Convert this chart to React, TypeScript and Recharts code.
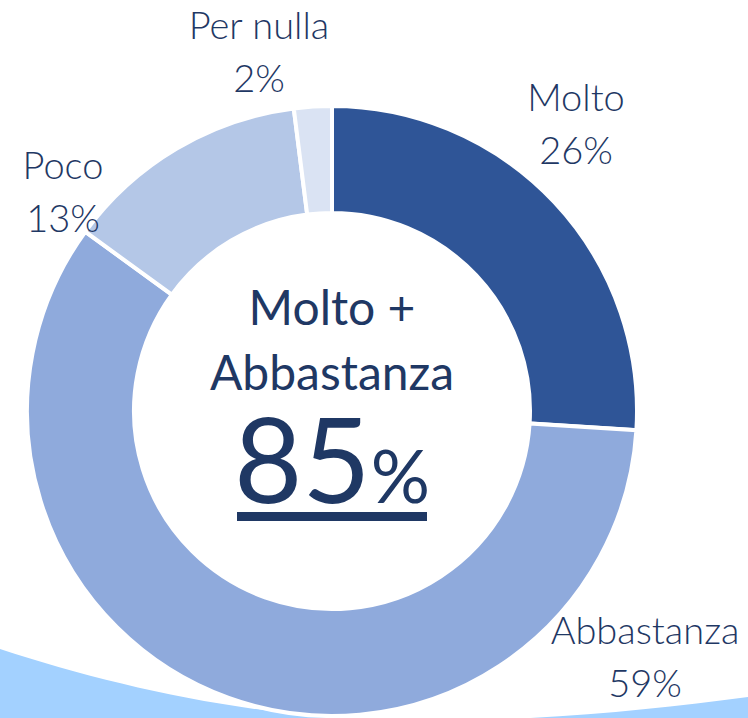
import React from "react";
import { PieChart, Pie, Cell, Label } from "recharts";

const categories = ["Molto", "Abbastanza", "Poco", "Per nulla"];
const values = [26, 59, 13, 2];
const colors = ["#2F5597", "#8FAADC", "#B4C7E7", "#DAE3F3"];
const centerTitle = ["Molto +", "Abbastanza"];
const centerValue = "85";

const data = categories.map((name, i) => ({ name, value: values[i] }));

const W = 748;
const H = 718;
const NAVY = "#1F3864";
const LABEL_FONT = "Lato, 'Open Sans', sans-serif";

// label anchor offsets relative to pie centre (layout only)
const LABEL_OFFSETS: Record<string, { dx: number; dy: number }> = {
  Molto: { dx: 244, dy: -300 },
  "Per nulla": { dx: -73, dy: -372 },
  Poco: { dx: -269, dy: -232 },
  Abbastanza: { dx: 313, dy: 233 },
};

const renderLabel = (props: any) => {
  const { cx, cy, name, value } = props;
  const off = LABEL_OFFSETS[name] || { dx: 0, dy: 0 };
  const x = cx + off.dx;
  const y = cy + off.dy;
  return (
    <g>
      <text x={x} y={y} textAnchor="middle" fill={NAVY} fontFamily={LABEL_FONT} fontSize={38} fontWeight={300}>
        {name}
      </text>
      <text x={x} y={y + 53} textAnchor="middle" fill={NAVY} fontFamily={LABEL_FONT} fontSize={38} fontWeight={300}>
        {`${value}%`}
      </text>
    </g>
  );
};

const CenterContent = (props: any) => {
  const vb = props.viewBox || {};
  const cx = vb.cx ?? 332;
  const cy = vb.cy ?? 411;
  return (
    <g>
      <text x={cx} y={cy - 86} textAnchor="middle" fill={NAVY} fontFamily={LABEL_FONT} fontSize={48}>
        {centerTitle[0]}
      </text>
      <text x={cx} y={cy - 21} textAnchor="middle" fill={NAVY} fontFamily={LABEL_FONT} fontSize={48}>
        {centerTitle[1]}
      </text>
      <text x={cx} y={cy + 92} textAnchor="middle" fill={NAVY} fontFamily={LABEL_FONT}>
        <tspan fontSize={118}>{centerValue}</tspan>
        <tspan fontSize={74}>%</tspan>
      </text>
      <rect x={cx - 95} y={cy + 101} width={190} height={9} fill={NAVY} />
    </g>
  );
};

export default function App() {
  return (
    <div style={{ position: "absolute", left: 0, top: 0, width: W, height: H, overflow: "hidden", background: "#fff" }}>
      <svg width={W} height={H} style={{ position: "absolute", left: 0, top: 0 }}>
        <path
          d="M0,649 C120,688 260,720 420,721 C540,721 650,710 748,697 L748,718 L0,718 Z"
          fill="#A3D1FF"
        />
      </svg>
      <div style={{ position: "absolute", left: 0, top: 0 }}>
        <PieChart width={W} height={H} margin={{ top: 0, right: 0, bottom: 0, left: 0 }}>
          <Pie
            data={data}
            dataKey="value"
            nameKey="name"
            cx={332}
            cy={411}
            innerRadius={198}
            outerRadius={305}
            startAngle={90}
            endAngle={-270}
            stroke="#FFFFFF"
            strokeWidth={4}
            label={renderLabel}
            labelLine={false}
            isAnimationActive={false}
          >
            {data.map((d, i) => (
              <Cell key={d.name} fill={colors[i]} />
            ))}
            <Label position="center" content={<CenterContent />} />
          </Pie>
        </PieChart>
      </div>
    </div>
  );
}
